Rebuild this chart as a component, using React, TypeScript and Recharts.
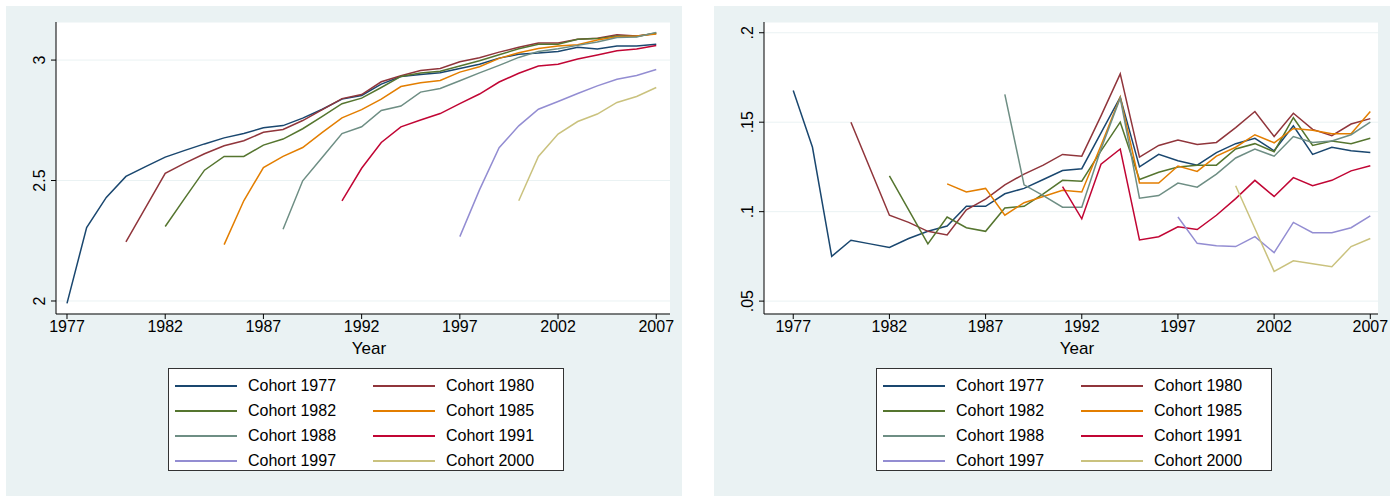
import { LineChart, Line, XAxis, YAxis, CartesianGrid } from "recharts";

const years = Array.from({ length: 31 }, (_, i) => 1977 + i);
const xTicks = [1977, 1982, 1987, 1992, 1997, 2002, 2007];

const cohorts = ["1977", "1980", "1982", "1985", "1988", "1991", "1997", "2000"];
const starts = [1977, 1980, 1982, 1985, 1988, 1991, 1997, 2000];
const colors = ["#1a476f", "#90353b", "#55752f", "#e37e00", "#6e8e84", "#c10534", "#938dd2", "#cac27e"];

// left panel: mean log level by cohort
const left1977 = [1.99, 2.305, 2.43, 2.517, 2.558, 2.597, 2.625, 2.652, 2.677, 2.695, 2.719, 2.728, 2.759, 2.796, 2.838, 2.853, 2.9, 2.932, 2.94, 2.947, 2.965, 2.983, 3.008, 3.024, 3.029, 3.036, 3.053, 3.046, 3.058, 3.058, 3.066];
const left1980 = [2.245, 2.388, 2.53, 2.572, 2.611, 2.644, 2.665, 2.7, 2.712, 2.749, 2.794, 2.84, 2.857, 2.91, 2.935, 2.957, 2.965, 2.993, 3.01, 3.033, 3.053, 3.071, 3.071, 3.086, 3.091, 3.105, 3.1, 3.11];
const left1982 = [2.309, 2.427, 2.543, 2.6, 2.6, 2.647, 2.672, 2.715, 2.766, 2.819, 2.842, 2.886, 2.932, 2.946, 2.954, 2.975, 2.997, 3.022, 3.047, 3.066, 3.066, 3.086, 3.089, 3.1, 3.098, 3.112];
const left1985 = [2.234, 2.416, 2.554, 2.6, 2.637, 2.7, 2.76, 2.794, 2.838, 2.89, 2.906, 2.915, 2.95, 2.972, 3.007, 3.03, 3.048, 3.058, 3.064, 3.083, 3.097, 3.1, 3.108];
const left1988 = [2.298, 2.499, 2.597, 2.695, 2.723, 2.791, 2.809, 2.867, 2.882, 2.914, 2.947, 2.978, 3.011, 3.036, 3.047, 3.061, 3.075, 3.094, 3.096, 3.115];
const left1991 = [2.416, 2.551, 2.658, 2.723, 2.751, 2.778, 2.819, 2.859, 2.909, 2.945, 2.975, 2.983, 3.004, 3.021, 3.039, 3.046, 3.06];
const left1997 = [2.267, 2.461, 2.636, 2.727, 2.796, 2.828, 2.861, 2.893, 2.92, 2.936, 2.961];
const left2000 = [2.416, 2.6, 2.693, 2.745, 2.776, 2.824, 2.849, 2.886];

// right panel: dispersion by cohort
const right1977 = [0.1677, 0.136, 0.075, 0.084, 0.082, 0.08, 0.085, 0.089, 0.092, 0.103, 0.103, 0.11, 0.113, 0.118, 0.123, 0.124, 0.144, 0.164, 0.125, 0.132, 0.1285, 0.126, 0.133, 0.138, 0.141, 0.134, 0.148, 0.132, 0.136, 0.134, 0.133];
const right1980 = [0.15, 0.124, 0.098, 0.094, 0.089, 0.087, 0.101, 0.107, 0.115, 0.121, 0.126, 0.132, 0.131, 0.1535, 0.177, 0.1305, 0.137, 0.14, 0.1375, 0.1387, 0.147, 0.156, 0.142, 0.155, 0.146, 0.1425, 0.149, 0.152];
const right1982 = [0.12, 0.101, 0.082, 0.097, 0.091, 0.089, 0.102, 0.103, 0.11, 0.1175, 0.117, 0.134, 0.15, 0.118, 0.122, 0.125, 0.126, 0.126, 0.135, 0.138, 0.1335, 0.1525, 0.137, 0.1395, 0.138, 0.141];
const right1985 = [0.1155, 0.111, 0.113, 0.098, 0.105, 0.1085, 0.112, 0.111, 0.137, 0.164, 0.116, 0.116, 0.1255, 0.1225, 0.131, 0.136, 0.143, 0.1385, 0.1465, 0.1455, 0.1435, 0.1435, 0.156];
const right1988 = [0.1655, 0.115, 0.109, 0.1025, 0.1025, 0.135, 0.1635, 0.1075, 0.109, 0.116, 0.1137, 0.121, 0.13, 0.135, 0.131, 0.142, 0.1387, 0.1395, 0.143, 0.15];
const right1991 = [0.114, 0.096, 0.1265, 0.135, 0.0842, 0.086, 0.0915, 0.09, 0.098, 0.1073, 0.1175, 0.1085, 0.119, 0.1145, 0.1175, 0.1228, 0.1257];
const right1997 = [0.097, 0.0823, 0.081, 0.0805, 0.086, 0.0771, 0.094, 0.0882, 0.0882, 0.091, 0.0977];
const right2000 = [0.1145, 0.0906, 0.0666, 0.0725, 0.0709, 0.0692, 0.0805, 0.085];

const leftSeries = [left1977, left1980, left1982, left1985, left1988, left1991, left1997, left2000];
const rightSeries = [right1977, right1980, right1982, right1985, right1988, right1991, right1997, right2000];

function buildRows(series: number[][]) {
  return years.map((year) => {
    const row: Record<string, number | null> = { year };
    series.forEach((vals, i) => {
      const k = year - starts[i];
      row["c" + cohorts[i]] = k >= 0 && k < vals.length ? vals[k] : null;
    });
    return row;
  });
}

const font = "'Liberation Sans', Arial, sans-serif";

const YTick = (props: any) => {
  const { x, y, payload, labels } = props;
  return (
    <text
      x={x - 4}
      y={y}
      transform={`rotate(-90 ${x - 4} ${y})`}
      textAnchor="middle"
      fontSize={16}
      fill="#000"
      fontFamily={font}
    >
      {labels[payload.value]}
    </text>
  );
};

function Panel(props: {
  left: number;
  series: number[][];
  xDomain: [number, number];
  yDomain: [number, number];
  yTicks: number[];
  yLabels: Record<number, string>;
}) {
  const data = buildRows(props.series);
  return (
    <div style={{ position: "absolute", left: props.left, top: 6, width: 676, height: 490, background: "#eaf2f3" }}>
      <LineChart width={676} height={340} data={data} margin={{ top: 16, right: 12, bottom: 2, left: 0 }}>
        <CartesianGrid vertical={false} stroke="#eaf2f3" fill="#ffffff" />
        <XAxis
          dataKey="year"
          type="number"
          domain={props.xDomain}
          ticks={xTicks}
          allowDataOverflow
          height={30}
          tickSize={5}
          stroke="#000"
          tick={{ fontSize: 16, fill: "#000", fontFamily: font }}
        />
        <YAxis
          type="number"
          domain={props.yDomain}
          ticks={props.yTicks}
          allowDataOverflow
          width={50}
          tickSize={5}
          stroke="#000"
          tick={<YTick labels={props.yLabels} />}
        />
        {cohorts.map((c, i) => (
          <Line
            key={c}
            dataKey={"c" + c}
            stroke={colors[i]}
            strokeWidth={1.5}
            dot={false}
            isAnimationActive={false}
          />
        ))}
      </LineChart>
      <div style={{ position: "absolute", left: 0, width: 676, top: 333, textAlign: "center", paddingLeft: 50, boxSizing: "border-box", fontSize: 17, fontFamily: font }}>
        Year
      </div>
      <div
        style={{
          position: "absolute",
          left: 162,
          top: 362,
          width: 396,
          height: 103,
          background: "#fff",
          border: "1px solid #333",
          boxSizing: "border-box",
          fontFamily: font,
          fontSize: 16,
        }}
      >
        {cohorts.map((c, i) => (
          <div
            key={c}
            style={{
              position: "absolute",
              left: i % 2 === 0 ? 6 : 204,
              top: 8 + Math.floor(i / 2) * 25,
              display: "flex",
              alignItems: "center",
              height: 18,
            }}
          >
            <div style={{ width: 62, height: 1.5, background: colors[i], marginRight: 11 }} />
            <span>Cohort {c}</span>
          </div>
        ))}
      </div>
    </div>
  );
}

export default function App() {
  return (
    <div style={{ position: "absolute", left: 0, top: 0, width: 1394, height: 496, background: "#fff" }}>
      <Panel
        left={6}
        series={leftSeries}
        xDomain={[1976.44, 2007.7]}
        yDomain={[1.946, 3.158]}
        yTicks={[2, 2.5, 3]}
        yLabels={{ 2: "2", 2.5: "2.5", 3: "3" }}
      />
      <Panel
        left={714}
        series={rightSeries}
        xDomain={[1975.48, 2007.4]}
        yDomain={[0.0428, 0.206]}
        yTicks={[0.05, 0.1, 0.15, 0.2]}
        yLabels={{ 0.05: ".05", 0.1: ".1", 0.15: ".15", 0.2: ".2" }}
      />
    </div>
  );
}
